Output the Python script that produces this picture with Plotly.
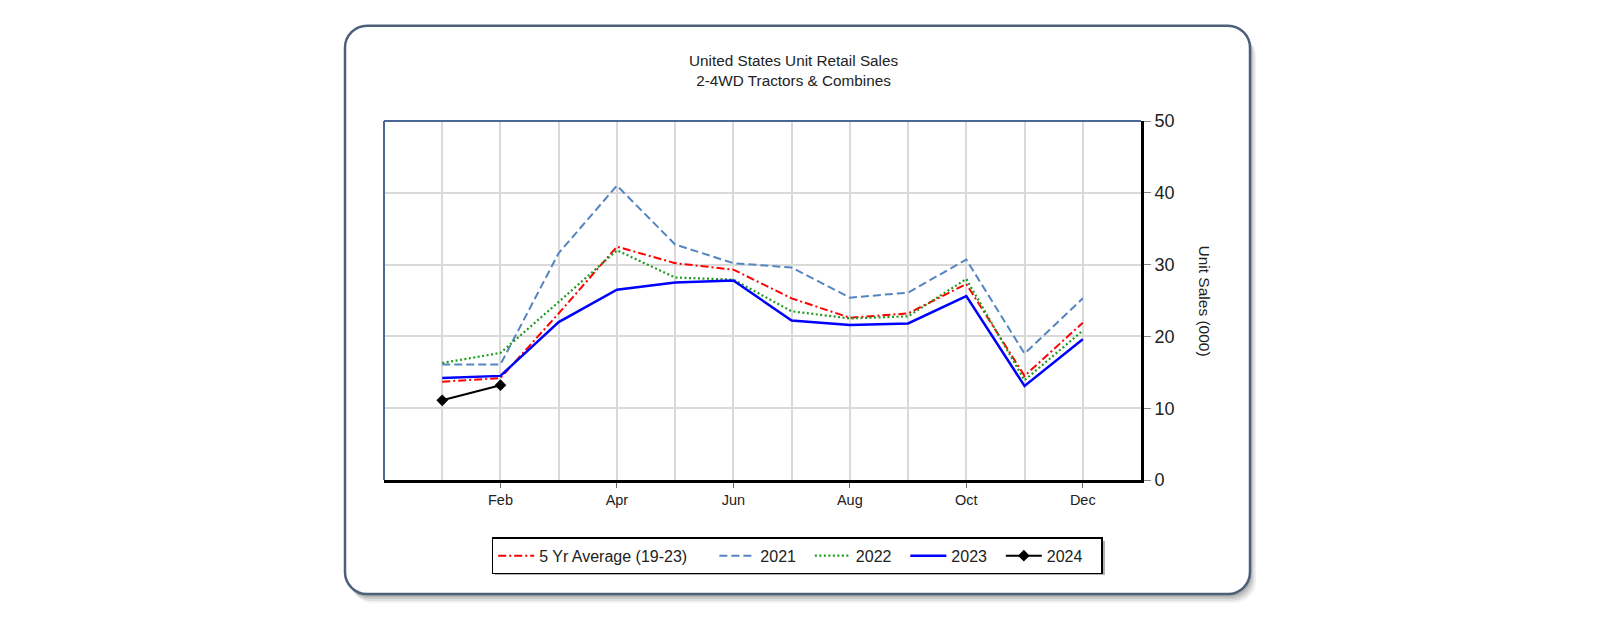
import plotly.graph_objects as go

# ---------------- data ----------------
months = ["Jan", "Feb", "Mar", "Apr", "May", "Jun", "Jul", "Aug", "Sep", "Oct", "Nov", "Dec"]
month_num = list(range(1, len(months) + 1))
avg_5yr = [13.7, 14.2, 23.2, 32.5, 30.2, 29.3, 25.3, 22.6, 23.2, 27.3, 14.5, 21.9]
y2021 = [16.1, 16.1, 31.6, 41.0, 32.8, 30.2, 29.6, 25.4, 26.1, 30.7, 17.6, 25.3]
y2022 = [16.3, 17.7, 24.8, 32.0, 28.2, 27.9, 23.5, 22.5, 22.8, 28.0, 13.9, 20.8]
y2023 = [14.2, 14.5, 22.0, 26.5, 27.5, 27.8, 22.2, 21.6, 21.8, 25.6, 13.1, 19.6]
y2024 = [11.1, 13.2]
tick_months = ["Feb", "Apr", "Jun", "Aug", "Oct", "Dec"]
y_ticks = [0, 10, 20, 30, 40, 50]

FONT = "Liberation Sans, Arial, sans-serif"
OFF = 8  # page body margin
W, H = 1600 - 2 * OFF, 623 - 2 * OFF
PL, PR, PT, PB = 384, 1141, 121, 480  # plot area in page pixels


def px(x):
    return (x - PL) / (PR - PL)


def py(y):
    return (PB - y) / (PB - PT)


def rounded(x0, y0, x1, y1, r):
    k = 0.5523 * r
    p = []
    p.append(f"M {px(x0 + r)},{py(y0)}")
    p.append(f"L {px(x1 - r)},{py(y0)}")
    p.append(f"C {px(x1 - r + k)},{py(y0)} {px(x1)},{py(y0 + r - k)} {px(x1)},{py(y0 + r)}")
    p.append(f"L {px(x1)},{py(y1 - r)}")
    p.append(f"C {px(x1)},{py(y1 - r + k)} {px(x1 - r + k)},{py(y1)} {px(x1 - r)},{py(y1)}")
    p.append(f"L {px(x0 + r)},{py(y1)}")
    p.append(f"C {px(x0 + r - k)},{py(y1)} {px(x0)},{py(y1 - r + k)} {px(x0)},{py(y1 - r)}")
    p.append(f"L {px(x0)},{py(y0 + r)}")
    p.append(f"C {px(x0)},{py(y0 + r - k)} {px(x0 + r - k)},{py(y0)} {px(x0 + r)},{py(y0)} Z")
    return " ".join(p)


def sp(n):
    return "\u00a0" * n


fig = go.Figure()
fig.add_trace(go.Scatter(x=month_num, y=avg_5yr, mode="lines", name="5 Yr Average (19-23)" + sp(5),
                         line=dict(color="#ff0000", width=2, dash="8px,3px,2px,3px")))
fig.add_trace(go.Scatter(x=month_num, y=y2021, mode="lines", name="2021" + sp(2),
                         line=dict(color="#5585c0", width=2, dash="8px,4px")))
fig.add_trace(go.Scatter(x=month_num, y=y2022, mode="lines", name="2022" + sp(2),
                         line=dict(color="#1f9a1f", width=2.2, dash="2px,2.5px")))
fig.add_trace(go.Scatter(x=month_num, y=y2023, mode="lines", name="2023" + sp(2),
                         line=dict(color="#0000ff", width=2.5)))
fig.add_trace(go.Scatter(x=month_num[:len(y2024)], y=y2024, mode="lines+markers", name="2024" + sp(3),
                         line=dict(color="#000000", width=2),
                         marker=dict(symbol="diamond", size=9, color="#000000")))

shapes = []
# outer rounded panel with soft shadow
for dx, dy, op in [(6, 9, 0.08), (4.5, 7, 0.12), (3, 5, 0.16), (1.5, 3, 0.22)]:
    shapes.append(dict(type="path", xref="paper", yref="paper", layer="below",
                       path=rounded(345 + dx, 25.7 + dy, 1250 + dx, 594 + dy, 22),
                       fillcolor=f"rgba(90,90,90,{op})", line=dict(width=0)))
shapes.append(dict(type="path", xref="paper", yref="paper", layer="below",
                   path=rounded(345, 25.7, 1250, 594, 22),
                   fillcolor="white", line=dict(color="#4d6079", width=2.5)))
# plot frame (left / top in blue-grey)
shapes.append(dict(type="line", xref="paper", yref="paper", x0=0, x1=0, y0=0, y1=1,
                   line=dict(color="#4a6894", width=2), layer="above"))
shapes.append(dict(type="line", xref="paper", yref="paper", x0=0, x1=1, y0=1, y1=1,
                   line=dict(color="#4a6894", width=2), layer="above"))
# legend shadow
shapes.append(dict(type="rect", xref="paper", yref="paper",
                   x0=px(495), x1=px(1105), y0=py(575), y1=py(541),
                   fillcolor="rgba(80,80,80,0.45)", line=dict(width=0), layer="above"))

fig.update_layout(
    width=W, height=H,
    margin=dict(l=PL - OFF, r=1600 - OFF - PR, t=PT - OFF, b=623 - OFF - PB, pad=0),
    paper_bgcolor="white", plot_bgcolor="white",
    font=dict(family=FONT, color="#222222"),
    shapes=shapes,
    showlegend=True,
    legend=dict(orientation="h", x=px(491.7), xanchor="left", y=py(537.3), yanchor="top",
                bgcolor="white", bordercolor="#000000", borderwidth=1.5,
                font=dict(family=FONT, size=16, color="#222222"), itemwidth=36,
                traceorder="normal"),
    annotations=[
        dict(text="United States Unit Retail Sales<br>2-4WD Tractors & Combines",
             xref="paper", yref="paper", x=px(794), y=py(70.8), xanchor="center", yanchor="middle",
             showarrow=False, font=dict(family=FONT, size=15.3, color="#222222")),
        dict(text="Unit Sales (000)", xref="paper", yref="paper", x=px(1204), y=0.5,
             xanchor="center", yanchor="middle", textangle=90, showarrow=False,
             font=dict(family=FONT, size=15.5, color="#222222")),
    ],
    xaxis=dict(range=[0, 13], tickvals=[months.index(m) + 1 for m in tick_months], ticktext=tick_months,
               showgrid=True, gridcolor="#d9d9d9", gridwidth=1.5,
               minor=dict(tickvals=[i + 1 for i, m in enumerate(months) if m not in tick_months],
                          showgrid=True, gridcolor="#d9d9d9", gridwidth=1.5, ticks=""),
               showline=True, linecolor="#000000", linewidth=3,
               ticks="outside", ticklen=5, tickcolor="#666666", tickwidth=1,
               zeroline=False, fixedrange=True,
               tickfont=dict(family=FONT, size=14.5, color="#222222")),
    yaxis=dict(range=[0, 50], tickvals=y_ticks, side="right",
               showgrid=True, gridcolor="#d9d9d9", gridwidth=1.5,
               showline=True, linecolor="#000000", linewidth=3,
               ticks="outside", ticklen=7, tickcolor="#888888", tickwidth=1,
               zeroline=False, fixedrange=True,
               tickfont=dict(family=FONT, size=18, color="#222222")),
)

fig.write_html("out.html")
